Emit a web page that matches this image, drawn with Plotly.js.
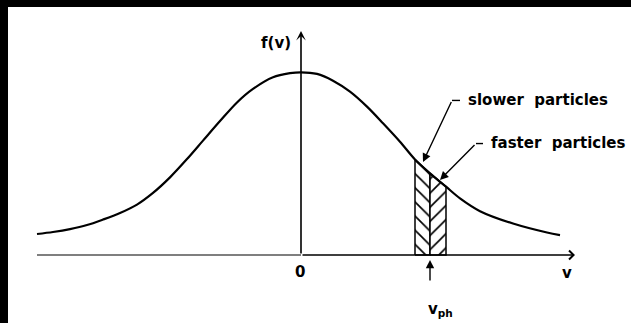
<!DOCTYPE html>
<html>
<head>
<meta charset="utf-8">
<script src="https://cdn.plot.ly/plotly-3.0.1.min.js"></script>
<style>
  html, body { margin: 0; padding: 0; background: #000; }
  #chart { width: 631px; height: 323px; }
</style>
</head>
<body>
<div id="chart"></div>
<script>
// Velocity distribution f(v): velocity (in thermal units) and normalised density
const velocity = [-2.64, -2.48, -2.31, -2.14, -1.98, -1.81, -1.64, -1.48, -1.31, -1.14,
                  -0.98, -0.81, -0.64, -0.48, -0.28, -0.11, 0.00, 0.16, 0.32, 0.49,
                  0.66, 0.82, 0.99, 1.14, 1.29, 1.45, 1.59, 1.79, 2.12, 2.46, 2.59];
const density  = [0.115, 0.126, 0.142, 0.164, 0.194, 0.230, 0.276, 0.340, 0.425, 0.525,
                  0.626, 0.733, 0.835, 0.909, 0.973, 0.995, 1.000, 0.991, 0.954, 0.894,
                  0.812, 0.721, 0.620, 0.523, 0.447, 0.374, 0.310, 0.240, 0.172, 0.123, 0.109];

// Particles near the wave phase velocity v_ph
const vph = 1.29;
const slowerV = [1.14, 1.29];      // band just below v_ph
const slowerF = [0.523, 0.447];
const fasterV = [1.29, 1.45];      // band just above v_ph
const fasterF = [0.447, 0.374];

const labels = {
  fv: 'f(v)', zero: '0', v: 'v', vph: 'v<sub>ph</sub>',
  slower: 'slower\u00a0 particles', faster: 'faster\u00a0 particles'
};

function band(vs, fs, pattern) {
  return {
    type: 'scatter', mode: 'lines',
    x: [vs[0], vs[0], vs[1], vs[1], vs[0]],
    y: [0, fs[0], fs[1], 0, 0],
    fill: 'toself', fillcolor: 'white',
    fillpattern: { shape: pattern, size: 10, solidity: 0.17, fgcolor: '#000', bgcolor: '#fff' },
    line: { color: '#000', width: 1.5 },
    hoverinfo: 'skip', showlegend: false
  };
}

const traces = [
  band(slowerV, slowerF, '\\'),
  band(fasterV, fasterF, '/'),
  {
    type: 'scatter', mode: 'lines',
    x: velocity, y: density,
    line: { color: '#000', width: 2.2, shape: 'spline', smoothing: 0.9 },
    hoverinfo: 'skip', showlegend: false
  }
];

const font = { family: 'DejaVu Sans, Arial, sans-serif', size: 15, color: '#000', weight: 'bold' };

function arrow(x, y, ax, ay, head, size, width) {
  return {
    x: x, y: y, ax: ax, ay: ay, xref: 'x', yref: 'y', axref: 'x', ayref: 'y',
    text: '', showarrow: true, arrowhead: head, arrowsize: size, arrowwidth: width,
    arrowcolor: '#000', standoff: 0, startstandoff: 0
  };
}
function label(text, x, y, xanchor) {
  return { x: x, y: y, xref: 'x', yref: 'y', text: text, showarrow: false,
           xanchor: xanchor || 'center', yanchor: 'middle', font: font };
}

const annotations = [
  arrow(2.74, 0, 0, 0, 4, 1.1, 1.6),          // v axis
  arrow(0, 1.226, 0, 0, 3, 1.0, 1.6),         // f(v) axis
  arrow(1.22, 0.509, 1.51, 0.846, 2, 1.2, 1.4),  // slower leader
  arrow(1.39, 0.411, 1.75, 0.61, 2, 1.2, 1.4),   // faster leader
  arrow(vph, -0.027, vph, -0.148, 2, 1.2, 1.4),  // v_ph marker
  label(labels.fv, -0.08, 1.16, 'right'),
  label(labels.zero, -0.01, -0.093),
  label(labels.v, 2.66, -0.099),
  label(labels.vph, 1.39, -0.30),
  label(labels.slower, 1.65, 0.848, 'left'),
  label(labels.faster, 1.88, 0.611, 'left')
];

const shapes = [
  // negative half of the v axis
  { type: 'line', xref: 'x', yref: 'y', x0: -2.64, y0: 0, x1: 0, y1: 0,
    line: { color: '#555', width: 1.4 } },
  // short ticks on the leader lines
  { type: 'line', xref: 'x', yref: 'y', x0: 1.51, y0: 0.846, x1: 1.59, y1: 0.846,
    line: { color: '#000', width: 1.4 } },
  { type: 'line', xref: 'x', yref: 'y', x0: 1.75, y0: 0.61, x1: 1.82, y1: 0.61,
    line: { color: '#000', width: 1.4 } }
];

const layout = {
  width: 631, height: 323,
  margin: { l: 8, r: 0, t: 7, b: 0 },
  paper_bgcolor: '#000', plot_bgcolor: '#fff',
  xaxis: { range: [-2.93, 3.30], visible: false, fixedrange: true },
  yaxis: { range: [-0.3722, 1.3574], visible: false, fixedrange: true },
  showlegend: false,
  annotations: annotations,
  shapes: shapes
};

Plotly.newPlot('chart', traces, layout, { displayModeBar: false, staticPlot: true });
</script>
</body>
</html>
